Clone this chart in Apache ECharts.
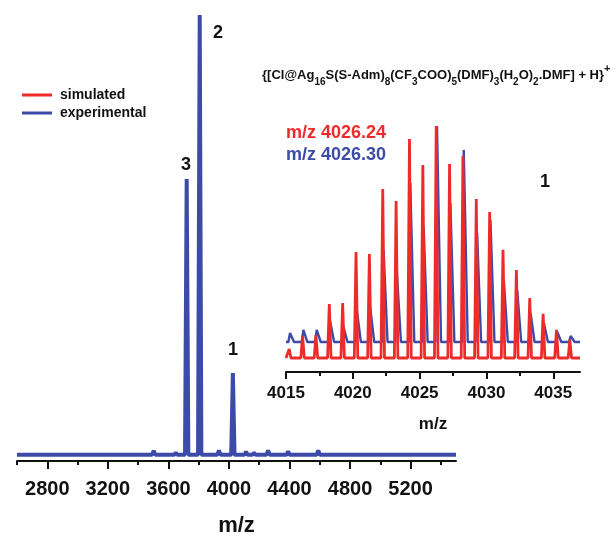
<!DOCTYPE html>
<html><head><meta charset="utf-8">
<script src="https://cdn.jsdelivr.net/npm/echarts@6/dist/echarts.min.js"></script>
<style>html,body{margin:0;padding:0;background:#fff}#c{width:616px;height:536px}</style>
</head><body><div id="c"></div>
<script>
// ---- main spectrum (experimental), relative intensity (peak 2 = 100) ----
const mainPeakMz  = [2700, 2760, 3050, 3200, 3503, 3649, 3721, 3807, 3934, 4026, 4113, 4166, 4259, 4391, 4590, 4823];
const mainPeakInt = [0.4, 0.3, 0.3, 0.3, 0.9, 0.5, 62.7, 100, 1.0, 18.6, 0.7, 0.5, 1.0, 0.8, 1.0, 0.4];
const mainMajorTicks = [2800, 3200, 3600, 4000, 4400, 4800, 5200];
const mainMinorTicks = [2600, 3000, 3400, 3800, 4200, 4600, 5000, 5400];

// ---- inset: isotope pattern of peak 1 ----
const simMz  = [4015.24, 4016.24, 4017.24, 4018.24, 4019.24, 4020.24, 4021.24, 4022.24, 4023.24, 4024.24, 4025.24,
                4026.24, 4027.24, 4028.24, 4029.24, 4030.24, 4031.24, 4032.24, 4033.24, 4034.24, 4035.24, 4036.24];
const simInt = [3.9, 9.5, 9.9, 23.3, 23.7, 45.7, 44.8, 72.8, 67.7, 94.4, 83.2,
                100, 83.6, 87.1, 68.5, 62.9, 46.6, 37.9, 25.9, 19.0, 12.1, 7.8];
const expMz  = [4015.30, 4016.30, 4017.30, 4018.30, 4019.30, 4020.30, 4021.30, 4022.30, 4023.30, 4024.30, 4025.30,
                4026.30, 4027.30, 4028.30, 4029.30, 4030.30, 4031.30, 4032.30, 4033.30, 4034.30, 4035.30, 4036.30];
const expInt = [3.9, 5.2, 5.2, 9.1, 6.5, 13.8, 15.1, 39.7, 29.7, 68.5, 49.6,
                93.1, 59.9, 82.8, 47.0, 52.6, 26.7, 22.4, 12.5, 8.2, 4.3, 2.6];
const expOffset = 6.9;   // experimental trace drawn stacked above the simulated one
const insetMajorTicks = [4015, 4020, 4025, 4030, 4035];
const insetMinorTicks = [4017.5, 4022.5, 4027.5, 4032.5];

const RED = '#ee2b2b', BLUE = '#3d4ba8', INK = '#111';
const FONT = '"Liberation Sans", Arial, sans-serif';

function spectrum(mz, inten, lo, hi, halfL, halfR, base) {
  const pts = [[lo, base]];
  for (let i = 0; i < mz.length; i++) {
    pts.push([mz[i] - halfL, base], [mz[i], base + inten[i]], [mz[i] + halfR, base]);
  }
  pts.push([hi, base]);
  return pts;
}

const mainData = spectrum(mainPeakMz, mainPeakInt, 2600, 5500, 11, 11, 0);
const simData  = spectrum(simMz, simInt, 4015, 4037, 0.13, 0.13, 0);
const expData  = spectrum(expMz, expInt, 4015, 4037, 0.12, 0.3, expOffset);

function axisPair(grid, min, max, major, minor, opt) {
  return [{
    type: 'value', gridIndex: grid, min: min, max: max, position: 'bottom',
    axisLine: { show: true, onZero: false, lineStyle: { color: INK, width: 2 } },
    axisTick: { show: true, customValues: major, length: opt.majorLen, lineStyle: { color: INK, width: 2 } },
    axisLabel: { customValues: major, formatter: v => String(v), fontSize: opt.labelSize, fontWeight: 'bold',
                 color: INK, fontFamily: FONT, margin: opt.margin },
    splitLine: { show: false },
    name: 'm/z', nameLocation: 'middle', nameGap: opt.nameGap,
    nameTextStyle: { fontSize: opt.nameSize, fontWeight: 'bold', color: INK, fontFamily: FONT }
  }, {
    type: 'value', gridIndex: grid, min: min, max: max, position: 'bottom',
    axisLine: { show: false, onZero: false },
    axisTick: { show: true, customValues: minor, length: opt.minorLen, lineStyle: { color: INK, width: 2 } },
    axisLabel: { show: false }, splitLine: { show: false }
  }];
}

const chart = echarts.init(document.getElementById('c'), null, { renderer: 'canvas' });
chart.setOption({
  animation: false,
  backgroundColor: '#fff',
  title: {
    left: 262, top: 63, padding: 0,
    text: '{[Cl@Ag{s|16}S(S-Adm){s|8}(CF{s|3}COO){s|5}(DMF){s|3}(H{s|2}O){s|2}.DMF] + H}{p|+}',
    textStyle: {
      fontSize: 13, fontWeight: 'bold', color: INK, fontFamily: FONT, lineHeight: 24,
      rich: {
        s: { fontSize: 10, fontWeight: 'bold', color: INK, fontFamily: FONT, lineHeight: 16, verticalAlign: 'bottom' },
        p: { fontSize: 11, fontWeight: 'bold', color: INK, fontFamily: FONT, lineHeight: 6, verticalAlign: 'top' }
      }
    }
  },
  legend: {
    left: 22, top: 88, orient: 'vertical', padding: 0, itemGap: 4,
    itemWidth: 30, itemHeight: 3, icon: 'rect',
    data: ['simulated', 'experimental'],
    textStyle: { fontSize: 14, fontWeight: 'bold', color: INK, fontFamily: FONT, lineHeight: 14, padding: [0, 0, 0, 3] }
  },
  grid: [
    { left: 17, right: 160, top: 15, bottom: 75, outerBoundsMode: 'none', containLabel: false },
    { left: 286, right: 36, top: 126, bottom: 164, outerBoundsMode: 'none', containLabel: false }
  ],
  xAxis: [].concat(
    axisPair(0, 2600, 5500, mainMajorTicks, mainMinorTicks, { majorLen: 8, minorLen: 4, labelSize: 20, margin: 18, nameGap: 54, nameSize: 22 }),
    axisPair(1, 4015, 4037, insetMajorTicks, insetMinorTicks, { majorLen: 7, minorLen: 4, labelSize: 17, margin: 13, nameGap: 44, nameSize: 17 })
  ),
  yAxis: [
    { type: 'value', gridIndex: 0, min: -1.4, max: 100, show: false },
    { type: 'value', gridIndex: 1, min: -6.03, max: 100, show: false }
  ],
  series: [
    { name: 'experimental', type: 'line', xAxisIndex: 0, yAxisIndex: 0, data: mainData, symbol: 'none',
      lineStyle: { color: BLUE, width: 4 }, itemStyle: { color: BLUE } },
    { name: 'experimental', type: 'line', xAxisIndex: 2, yAxisIndex: 1, data: expData, symbol: 'none',
      lineStyle: { color: BLUE, width: 2.4 }, itemStyle: { color: BLUE } },
    { name: 'simulated', type: 'line', xAxisIndex: 2, yAxisIndex: 1, data: simData, symbol: 'none',
      lineStyle: { color: RED, width: 2.8 }, itemStyle: { color: RED } }
  ],
  graphic: [
    { type: 'text', x: 218, y: 33, style: { text: '2', fill: INK, font: 'bold 18px ' + FONT, align: 'center', verticalAlign: 'middle' } },
    { type: 'text', x: 186, y: 165, style: { text: '3', fill: INK, font: 'bold 18px ' + FONT, align: 'center', verticalAlign: 'middle' } },
    { type: 'text', x: 233, y: 350, style: { text: '1', fill: INK, font: 'bold 18px ' + FONT, align: 'center', verticalAlign: 'middle' } },
    { type: 'text', x: 545, y: 182, style: { text: '1', fill: INK, font: 'bold 18px ' + FONT, align: 'center', verticalAlign: 'middle' } },
    { type: 'text', x: 286, y: 133, style: { text: 'm/z 4026.24', fill: RED, font: 'bold 18px ' + FONT, align: 'left', verticalAlign: 'middle' } },
    { type: 'text', x: 286, y: 155, style: { text: 'm/z 4026.30', fill: BLUE, font: 'bold 18px ' + FONT, align: 'left', verticalAlign: 'middle' } }
  ]
});
</script>
</body></html>
